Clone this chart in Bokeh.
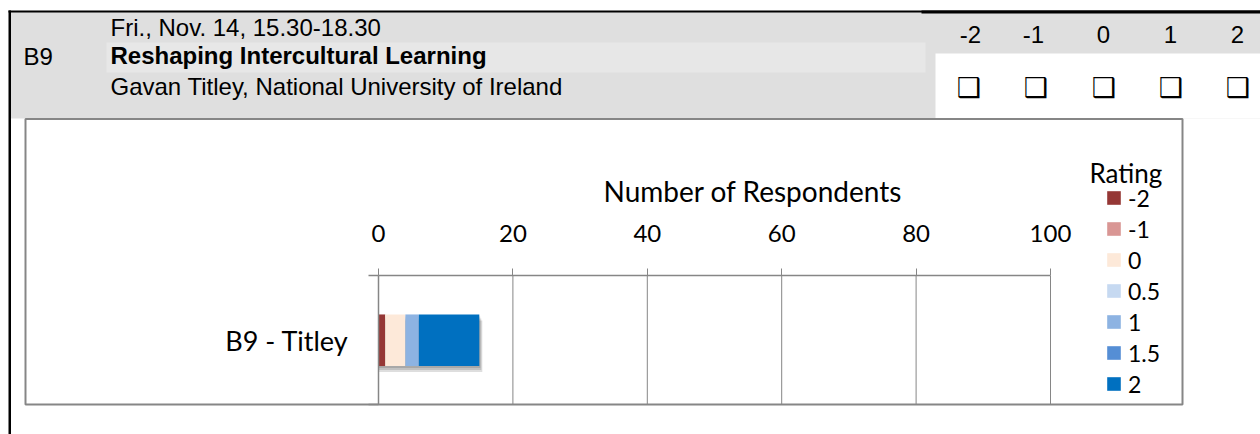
from bokeh.plotting import figure
from bokeh.models import (ColumnDataSource, Range1d, FixedTicker,
                          BoxAnnotation, Label, LinearAxis)
from bokeh.transform import dodge
from bokeh.embed import file_html
from bokeh.resources import INLINE

# ---------------- data ----------------
categories = ["B9 - Titley"]
ratings = ["-2", "-1", "0", "0.5", "1", "1.5", "2"]
r_m2 = [1]
r_m1 = [0]
r_0 = [3]
r_05 = [0]
r_1 = [2]
r_15 = [0]
r_2 = [9]
colors = ["#953735", "#d99694", "#fde9d9", "#c6d9f1", "#8db3e2", "#558ed5", "#0070c0"]
x_ticks = [0, 20, 40, 60, 80, 100]
scale_labels = ["-2", "-1", "0", "1", "2"]

header_date = "Fri., Nov. 14, 15.30-18.30"
header_code = "B9"
header_title = "Reshaping Intercultural Learning"
header_speaker = "Gavan Titley, National University of Ireland"
axis_title = "Number of Respondents"
legend_title = "Rating"

series = [r_m2, r_m1, r_0, r_05, r_1, r_15, r_2]
data = {"cat": categories, "pos": list(range(len(categories)))}
for name, vals in zip(ratings, series):
    data[name] = vals
data["total"] = [sum(v[i] for v in series) for i in range(len(categories))]
src = ColumnDataSource(data)

# ---------------- layout geometry (canvas pixels) ----------------
W, H = 1260, 434
px_x0, px_x100 = 378, 1050          # plot area left/right
band_center, band_px = 339.75, 129  # category band centre / height
ppx = (px_x100 - px_x0) / 100.0
x_range = Range1d(-px_x0 / ppx, (W - px_x0) / ppx)
y_range = Range1d(-(H - band_center) / band_px, band_center / band_px)

p = figure(width=W, height=H, x_range=x_range, y_range=y_range,
           output_backend="svg", toolbar_location=None,
           x_axis_type=None, y_axis_type=None,
           min_border=0, outline_line_color=None,
           background_fill_color="white", border_fill_color="white")
p.xgrid.visible = False
p.ygrid.visible = False

# header / frame decorations
def box(l, r, t, b, fill=None, line=None, lw=1):
    p.add_layout(BoxAnnotation(left=l, right=r, top=t, bottom=b,
                               left_units="canvas", right_units="canvas",
                               top_units="canvas", bottom_units="canvas",
                               fill_color=fill, fill_alpha=1 if fill else 0,
                               line_color=line, line_alpha=1 if line else 0,
                               line_width=lw))

box(10, 1260, 11, 118, fill="#dfdfdf")
box(106, 925, 42, 72, fill="#e7e7e7")
box(935, 1260, 53, 118, fill="white")
box(8, 1260, 10, 12, fill="black")
box(921, 1260, 10, 13, fill="black")
box(8, 10.5, 10, 434, fill="black")
box(25, 1182, 118.5, 404, line="#868686", lw=2)

def lab(x, base, text, font="Liberation Sans", size=24, style="normal",
        align="left", baseline="alphabetic"):
    y = base - 0.34 * size if baseline == "alphabetic" else base
    p.add_layout(Label(x=x, y=y, x_units="canvas", y_units="canvas", text=text,
                       text_font=font, text_font_size=f"{size}px",
                       text_font_style=style, text_align=align,
                       text_baseline=baseline, text_color="black"))

lab(110, 35, header_date)
lab(23, 64, header_code)
lab(110, 63.5, header_title, style="bold")
lab(110, 94, header_speaker)
for xc, s in zip([970, 1033, 1103, 1170, 1237], scale_labels):
    lab(xc, 42, s, align="center")
for xc in [968, 1035, 1103, 1170, 1237]:
    lab(xc, 87, "\u2751", font="DejaVu Sans", size=27, style="bold",
        align="center", baseline="middle")
lab(1089, 181, legend_title, font="Lato", size=26)
lab(603, 200, axis_title, font="Lato", size=28)

# gridlines (from the tick values)
p.segment(x0=x_ticks[1:], x1=x_ticks[1:], y0=-0.5, y1=0.5,
          line_color="#868686", line_width=1)

# bar shadow
for dx, dy, a in [(0.15, 0.0155, 0.13), (0.3, 0.031, 0.13), (0.45, 0.0465, 0.13)]:
    p.hbar(y=dodge("pos", -dy), left=0, right=dodge("total", dx), height=0.4,
           source=src, fill_color="black", fill_alpha=a, line_color=None)

p.hbar_stack(ratings, y="pos", height=0.4, color=colors, line_color=None,
             source=src, legend_label=ratings)

# axes at fixed locations
xa = LinearAxis(fixed_location=0.5, bounds=(0, 100),
                ticker=FixedTicker(ticks=x_ticks))
xa.axis_line_color = "#868686"
xa.axis_line_width = 1.5
xa.major_tick_line_color = "#868686"
xa.major_tick_out = 7
xa.major_tick_in = 0
xa.minor_tick_line_color = None
xa.major_label_text_font = "Lato"
xa.major_label_text_font_size = "24px"
xa.major_label_text_color = "black"
xa.major_label_standoff = 27
p.add_layout(xa, "above")

band_edges = [i + d for i in data["pos"] for d in (-0.5, 0.5)]
ya = LinearAxis(fixed_location=0, bounds=(-0.5, 0.5),
                ticker=FixedTicker(ticks=data["pos"], minor_ticks=band_edges),
                major_label_overrides={i: c for i, c in enumerate(categories)})
ya.axis_line_color = "#868686"
ya.axis_line_width = 1.5
ya.major_tick_line_color = None
ya.minor_tick_line_color = "#868686"
ya.minor_tick_line_width = 1.5
ya.minor_tick_out = 10
ya.minor_tick_in = 0
ya.major_label_text_font = "Lato"
ya.major_label_text_font_size = "27px"
ya.major_label_text_color = "black"
ya.major_label_standoff = 20
p.add_layout(ya, "left")

leg = p.legend[0]
leg.location = (1105, 35)
leg.border_line_color = None
leg.background_fill_alpha = 0
leg.padding = 0
leg.margin = 0
leg.spacing = 0
leg.label_height = 31
leg.glyph_width = 17
leg.glyph_height = 17
leg.label_standoff = 6
leg.label_text_font = "Lato"
leg.label_text_font_size = "23px"
leg.label_text_color = "black"

open("out.html", "w").write(file_html(p, INLINE))
